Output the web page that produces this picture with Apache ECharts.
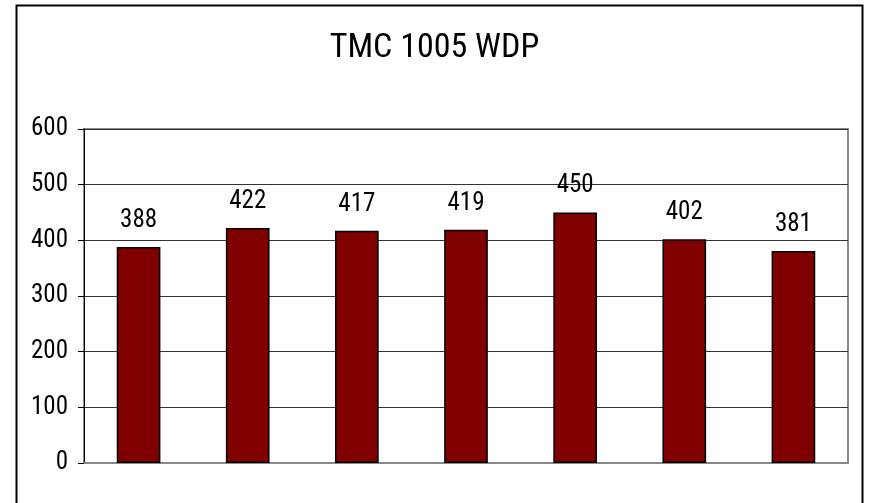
<!DOCTYPE html>
<html><head><meta charset="utf-8">
<script src="https://cdn.jsdelivr.net/npm/echarts@6/dist/echarts.min.js"></script>
<style>html,body{margin:0;padding:0;background:#fff}#c{width:869px;height:503px}</style>
</head><body><div id="c"></div>
<script>
const titleText = 'TMC 1005 WDP';
const categories = ['1','2','3','4','5','6','7'];
const values = [388, 422, 417, 419, 450, 402, 381];
const yTicks = [0, 100, 200, 300, 400, 500, 600];

const FONT = '"Roboto Condensed", "Liberation Sans", Arial, sans-serif';
const chart = echarts.init(document.getElementById('c'), null, {renderer: 'canvas'});
chart.setOption({
  animation: false,
  backgroundColor: '#fff',
  title: {
    text: titleText, left: 'center', top: 26,
    textStyle: {fontFamily: FONT, fontSize: 34, fontWeight: 'normal', color: '#000'}
  },
  graphic: [{
    type: 'rect', shape: {x: 16.5, y: 5.5, width: 846, height: 520},
    style: {fill: 'none', stroke: '#000', lineWidth: 2}, silent: true
  }],
  grid: {left: 84, right: 21, top: 129, bottom: 40, show: true, borderColor: '#888', borderWidth: 2, backgroundColor: 'transparent'},
  xAxis: {
    type: 'category', data: categories,
    axisLine: {show: true, lineStyle: {color: '#888', width: 2}},
    axisTick: {show: false}, axisLabel: {show: false}
  },
  yAxis: {
    type: 'value', min: yTicks[0], max: yTicks[yTicks.length - 1], interval: 100,
    axisLine: {show: true, lineStyle: {color: '#000', width: 1}},
    axisTick: {show: true, length: 6, lineStyle: {color: '#000'}},
    axisLabel: {fontFamily: FONT, fontSize: 25, color: '#000', margin: 16},
    splitLine: {show: true, lineStyle: {color: '#333', width: 1}}
  },
  series: [{
    type: 'bar', data: values, barWidth: '40%',
    itemStyle: {color: '#800000', borderColor: '#000', borderWidth: 1.5},
    label: {show: true, position: 'top', distance: 14, fontFamily: FONT, fontSize: 25, color: '#000'}
  }]
});
</script></body></html>
